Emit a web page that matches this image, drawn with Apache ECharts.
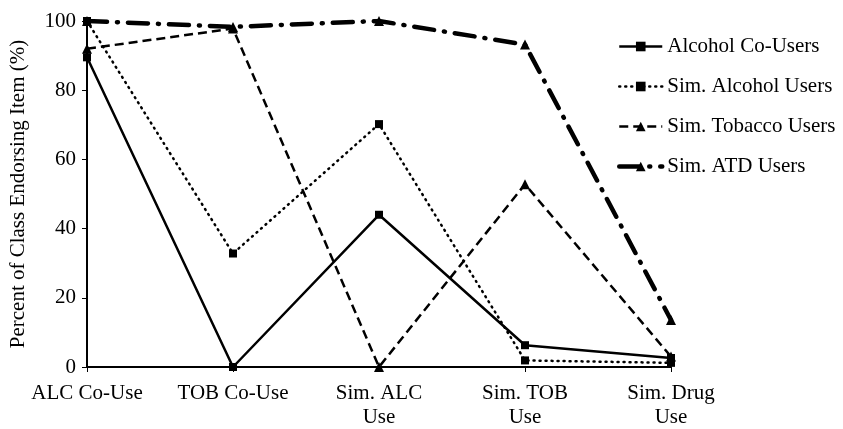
<!DOCTYPE html>
<html><head><meta charset="utf-8">
<script src="https://cdn.jsdelivr.net/npm/echarts@6/dist/echarts.min.js"></script>
<style>html,body{margin:0;padding:0;background:#fff}#c{width:843px;height:429px}</style>
</head><body><div id="c"></div>
<script>
const categories = ['ALC Co-Use', 'TOB Co-Use', 'Sim. ALC\nUse', 'Sim. TOB\nUse', 'Sim. Drug\nUse'];
const alcoholCoUsers = [89.5, 0, 44, 6.3, 2.6];
const simAlcoholUsers = [100, 32.8, 70.2, 1.9, 1.2];
const simTobaccoUsers = [92, 97.8, 0, 52.8, 3];
const simATDUsers = [100, 98.3, 100, 93.2, 13.6];
const yTicks = [0, 20, 40, 60, 80, 100];
const seriesNames = ['Alcohol Co-Users', 'Sim. Alcohol Users', 'Sim. Tobacco Users', 'Sim. ATD Users'];

const font = 'Liberation Serif';
const fs = 21;
const chart = echarts.init(document.getElementById('c'));
const styles = [
  { symbol: 'rect', size: 8, width: 2.5, type: 'solid', cap: 'butt' },
  { symbol: 'rect', size: 8, width: 2.5, type: [1, 5], cap: 'round' },
  { symbol: 'triangle', size: 10, width: 2.5, type: [9, 5], cap: 'butt' },
  { symbol: 'triangle', size: 10, width: 4.5, type: [20, 10, 1, 10], cap: 'round' }
];
const dataSets = [alcoholCoUsers, simAlcoholUsers, simTobaccoUsers, simATDUsers];
const series = seriesNames.map((name, i) => ({
  name, type: 'line', data: dataSets[i], symbol: styles[i].symbol, symbolSize: styles[i].size,
  itemStyle: { color: '#000' },
  lineStyle: { color: '#000', width: styles[i].width, type: styles[i].type, cap: styles[i].cap },
  emphasis: { disabled: true }, animation: false
}));
chart.setOption({
  backgroundColor: '#fff',
  animation: false,
  textStyle: { fontFamily: font, color: '#000' },
  grid: { left: 86, right: 172, top: 21, bottom: 60 },
  legend: {
    orient: 'vertical', left: 612, top: 31, itemWidth: 43, itemHeight: 12, itemGap: 19,
    textStyle: { fontFamily: font, fontSize: fs, color: '#000' },
    data: seriesNames.map((name, i) => ({
      name,
      lineStyle: { color: '#000', width: i === 3 ? 4.5 : 2.5, type: styles[i].type, cap: styles[i].cap }
    }))
  },
  xAxis: {
    type: 'category', data: categories, boundaryGap: false,
    axisLine: { lineStyle: { color: '#000', width: 2 } },
    axisTick: { show: true, length: 5, lineStyle: { color: '#000', width: 1 } },
    axisLabel: { fontFamily: font, fontSize: fs, color: '#000', margin: 14, lineHeight: 24 }
  },
  yAxis: {
    type: 'value', min: yTicks[0], max: yTicks[yTicks.length - 1], interval: 20,
    name: 'Percent of Class Endorsing Item (%)', nameLocation: 'middle', nameGap: 58,
    nameTextStyle: { fontFamily: font, fontSize: fs, color: '#000' },
    axisLine: { show: true, lineStyle: { color: '#000', width: 2 } },
    axisTick: { show: true, length: 5, lineStyle: { color: '#000', width: 1 } },
    splitLine: { show: false },
    axisLabel: { fontFamily: font, fontSize: fs, color: '#000', margin: 11 }
  },
  series
});
</script></body></html>
